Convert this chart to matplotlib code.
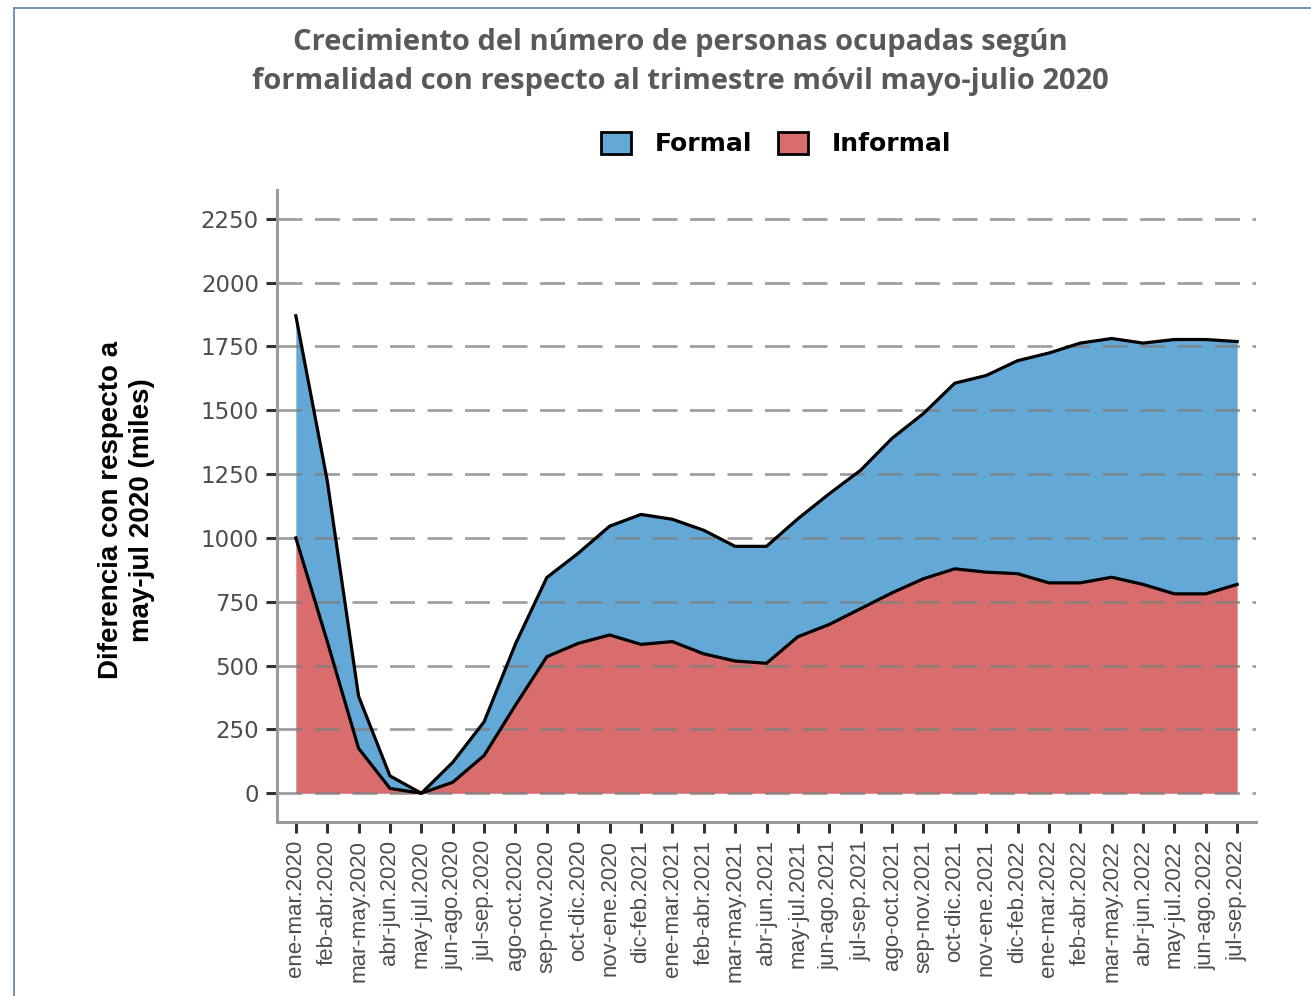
import numpy as np
import matplotlib
matplotlib.use("Agg")
import matplotlib.pyplot as plt
from matplotlib.patches import Patch
from matplotlib.lines import Line2D

# rolling quarters (trimestre movil)
periods = [
    "ene-mar.2020", "feb-abr.2020", "mar-may.2020", "abr-jun.2020", "may-jul.2020",
    "jun-ago.2020", "jul-sep.2020", "ago-oct.2020", "sep-nov.2020", "oct-dic.2020",
    "nov-ene.2020", "dic-feb.2021", "ene-mar.2021", "feb-abr.2021", "mar-may.2021",
    "abr-jun.2021", "may-jul.2021", "jun-ago.2021", "jul-sep.2021", "ago-oct.2021",
    "sep-nov.2021", "oct-dic.2021", "nov-ene.2021", "dic-feb.2022", "ene-mar.2022",
    "feb-abr.2022", "mar-may.2022", "abr-jun.2022", "may-jul.2022", "jun-ago.2022",
    "jul-sep.2022",
]

# difference vs may-jul 2020, thousands of people
informal = [1000, 595, 176, 19, 0, 43, 148, 345, 535, 587,
            620, 583, 594, 546, 518, 509, 613, 661, 723, 785,
            840, 879, 866, 860, 824, 824, 846, 818, 781, 781, 818]
formal = [870, 630, 204, 49, 0, 78, 132, 240, 310, 353,
          426, 509, 479, 484, 449, 458, 462, 512, 542, 605,
          647, 727, 770, 834, 900, 939, 935, 945, 996, 996, 951]

yticks = [0, 250, 500, 750, 1000, 1250, 1500, 1750, 2000, 2250]

c_formal = "#63A8D6"
c_informal = "#D96D6E"

plt.rcParams["font.family"] = ["Liberation Sans", "DejaVu Sans"]

x = np.arange(len(periods))
inf_arr = np.array(informal)
tot_arr = inf_arr + np.array(formal)

fig = plt.figure(figsize=(13.11, 9.96), dpi=100)
ax = fig.add_axes([277 / 1311, 174 / 996, 979 / 1311, 632 / 996])

ax.fill_between(x, 0, inf_arr, color=c_informal, linewidth=0, zorder=1)
ax.fill_between(x, inf_arr, tot_arr, color=c_formal, linewidth=0, zorder=1)

# dashed grid drawn over the areas
for yv in yticks:
    ax.axhline(yv, color="#7f7f7f", alpha=0.75, lw=2.0,
               linestyle=(0, (9, 4.5)), zorder=2)

ax.plot(x, inf_arr, color="black", lw=2.3, zorder=3)
ax.plot(x, tot_arr, color="black", lw=2.3, zorder=3)

ax.set_xlim(-0.6, len(periods) - 0.4)
ax.set_ylim(-112.5, 2362.5)
ax.set_yticks(yticks)
ax.set_yticklabels([str(v) for v in yticks], family=["DejaVu Sans"])
ax.set_xticks(x)
ax.set_xticklabels(periods, rotation=90)

for s in ["top", "right"]:
    ax.spines[s].set_visible(False)
for s in ["left", "bottom"]:
    ax.spines[s].set_color("#9a9a9a")
    ax.spines[s].set_linewidth(2.2)

ax.tick_params(axis="both", colors="#333333", width=2.2, length=8, pad=5)
ax.tick_params(axis="y", labelsize=16.5, labelcolor="#4d4d4d")
ax.tick_params(axis="x", labelsize=16, labelcolor="#4d4d4d")

fig.text(127 / 1311, 1 - 510 / 996, "Diferencia con respecto a\nmay-jul 2020 (miles)",
         rotation=90, ha="center", va="center", multialignment="center",
         fontsize=20, fontweight="bold", color="black", linespacing=1.25)

fig.text(680 / 1311, 1 - 62 / 996,
         "Crecimiento del número de personas ocupadas según\n"
         "formalidad con respecto al trimestre móvil mayo-julio 2020",
         ha="center", va="center", fontsize=21, fontweight="bold",
         color="#595959", family=["Open Sans", "DejaVu Sans"], linespacing=1.45)

handles = [Patch(facecolor=c_formal, edgecolor="black", linewidth=2),
           Patch(facecolor=c_informal, edgecolor="black", linewidth=2)]
leg = fig.legend(handles, ["Formal", "Informal"], loc="center",
                 bbox_to_anchor=(776 / 1311, 1 - 144 / 996), ncol=2, frameon=False,
                 prop={"size": 18, "weight": "bold", "family": "DejaVu Sans"},
                 handlelength=1.2, handleheight=1.0, handletextpad=0.95,
                 columnspacing=1.0)

# slide frame visible at the left and top edges
fig.add_artist(Line2D([14 / 1311, 14 / 1311], [0, 1 - 8 / 996],
                      transform=fig.transFigure, color="#5f7fb3", lw=1.2))
fig.add_artist(Line2D([14 / 1311, 1], [1 - 8 / 996, 1 - 8 / 996],
                      transform=fig.transFigure, color="#5f7fb3", lw=1.2))

fig.savefig("out.png", dpi=100)
